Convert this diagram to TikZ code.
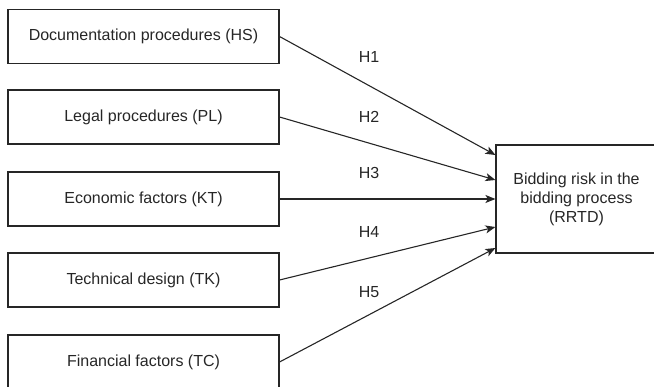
\documentclass[tikz,border=0pt]{standalone}
\usepackage{fontspec}
\setmainfont{Liberation Sans}
\usetikzlibrary{arrows.meta}
\begin{document}
\begin{tikzpicture}[x=1pt,y=-1pt,
  every node/.style={font=\fontsize{16}{19}\selectfont, text=black!85},
  factor/.style={draw=black!85, line width=1.1pt, minimum width=271pt, minimum height=54pt, inner sep=0pt},
  target/.style={draw=black!85, line width=1.1pt, minimum width=161pt, minimum height=108pt, inner sep=0pt, align=center},
  hyp/.style={draw=black!85, line width=1.1pt, -{Stealth[length=10pt,width=8pt,inset=2.5pt]}},
  hlabel/.style={inner sep=0pt}]
\useasboundingbox (0,0) rectangle (654,387);
\node[factor] (hs) at (143.5,36.5) {Documentation procedures (HS)};
\node[factor] (pl) at (143.5,117) {Legal procedures (PL)};
\node[factor] (kt) at (143.5,199) {Economic factors (KT)};
\node[factor] (tk) at (143.5,280) {Technical design (TK)};
\node[factor] (tc) at (143.5,362) {Financial factors (TC)};
\node[target] (rr) at (576.5,199) {Bidding risk in the\\bidding process\\(RRTD)};
\draw[hyp] (hs.east) -- ([yshift=44pt]rr.west);
\draw[hyp] (pl.east) -- ([yshift=19pt]rr.west);
\draw[hyp] (kt.east) -- (rr.west);
\draw[hyp] (tk.east) -- ([yshift=-28pt]rr.west);
\draw[hyp] (tc.east) -- ([yshift=-49pt]rr.west);
\node[hlabel] (h1) at (369,57) {H1};
\node[hlabel] (h2) at (369,117) {H2};
\node[hlabel] (h3) at (369,173) {H3};
\node[hlabel] (h4) at (369,232) {H4};
\node[hlabel] (h5) at (369,292) {H5};
\end{tikzpicture}
\end{document}
